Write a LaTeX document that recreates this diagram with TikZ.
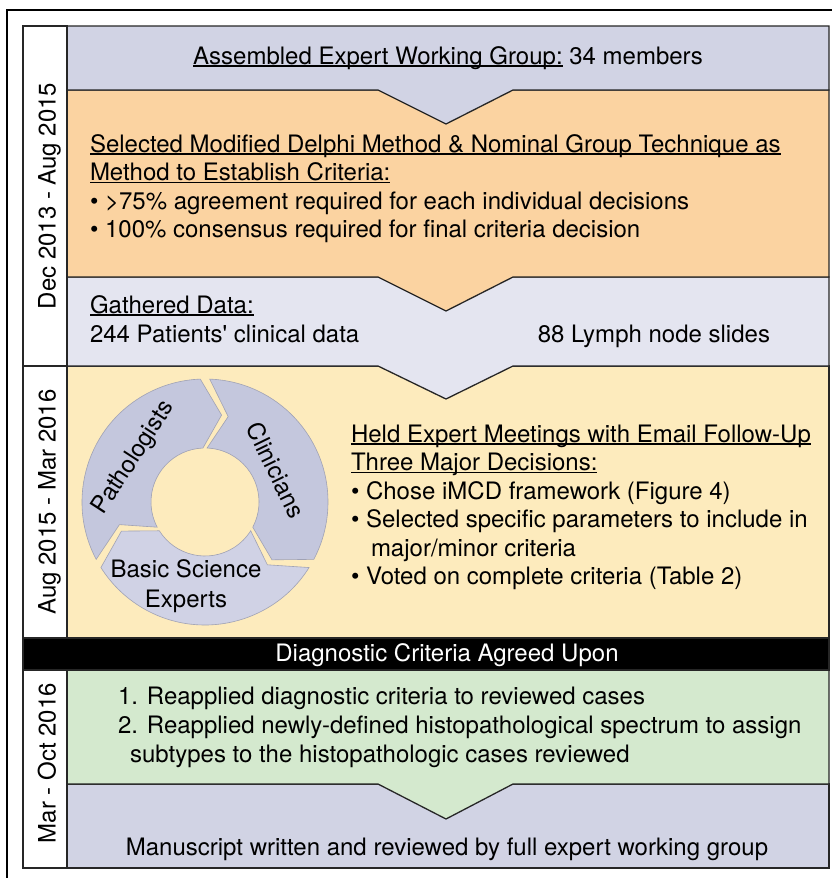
\documentclass[tikz,border=0pt]{standalone}
\usepackage{fontspec}
\setmainfont{TeX Gyre Heros}
\definecolor{lavA}{RGB}{209,211,228}
\definecolor{grayA}{RGB}{228,229,240}
\definecolor{org}{RGB}{251,211,161}
\definecolor{yel}{RGB}{253,235,189}
\definecolor{grn}{RGB}{212,233,206}
\definecolor{segA}{RGB}{196,199,221}
\definecolor{segB}{RGB}{208,210,229}
\definecolor{segedge}{RGB}{160,162,180}
\newcommand\myul[1]{\setbox0\hbox{#1}\rlap{\rule[-2.6pt]{\wd0}{1.2pt}}\box0\relax}
\begin{document}
\begin{tikzpicture}[x=1pt,y=-1pt,
  every node/.style={inner sep=0pt, outer sep=0pt, font=\fontsize{24}{28.5}\selectfont},
  boxline/.style={draw=black!85, line width=1.3pt, line join=miter},
  txt/.style={anchor=base west},
  ctxt/.style={anchor=base},
  lbl/.style={anchor=base, rotate=90},
  seg/.style={draw=segedge, line width=0.6pt}]
\useasboundingbox (0,0) rectangle (832,878);
\fill[white] (0,0) rectangle (832,878);
% outer frame
\draw[line width=1.5pt] (7,878) -- (7,10) -- (832,10);
% boxes (bottom to top)
\path[boxline, fill=lavA] (67,784) rectangle (829,868);
\path[boxline, fill=grn] (67,670) -- (829,670) -- (829,784) -- (513,784) -- (446,819) -- (378,784) -- (67,784) -- cycle;
\path[boxline, fill=black] (23,638) rectangle (829,670);
\path[boxline, fill=yel] (67,366) rectangle (829,638);
\path[boxline, fill=grayA] (67,277) -- (829,277) -- (829,366) -- (513,366) -- (446,399) -- (378,366) -- (67,366) -- cycle;
\path[boxline, fill=org] (67,90) -- (829,90) -- (829,277) -- (513,277) -- (446,311) -- (378,277) -- (67,277) -- cycle;
\path[boxline, fill=lavA] (67,26) -- (829,26) -- (829,90) -- (513,90) -- (446,124) -- (378,90) -- (67,90) -- cycle;
% label column
\path[boxline, fill=white] (23,26) rectangle (67,366);
\path[boxline, fill=white] (23,366) rectangle (67,638);
\path[boxline, fill=white] (23,670) rectangle (67,868);
% labels
\node[lbl] (l1) at (55.5,196) {Dec 2013 - Aug 2015};
\node[lbl] (l2) at (55.5,502) {Aug 2015 - Mar 2016};
\node[lbl] (l3) at (55.5,763) {Mar - Oct 2016};
% box 1
\node[ctxt] (t1) at (448,64) {\myul{Assembled Expert Working Group:} 34 members};
% box 2
\node[txt] (t2a) at (90,152) {\myul{Selected Modified Delphi Method \& Nominal Group Technique as}};
\node[txt] (t2b) at (90,180.5) {\myul{Method to Establish Criteria:}};
\node[txt] (t2c) at (90,209) {• >75\% agreement required for each individual decisions};
\node[txt] (t2d) at (90,237.5) {• 100\% consensus required for final criteria decision};
% box 3
\node[txt] (t3a) at (90,313) {\myul{Gathered Data:}};
\node[txt] (t3b) at (90,342) {244 Patients\textquotesingle{} clinical data};
\node[anchor=base east] (t3c) at (770,342) {88 Lymph node slides};
% cycle
\begin{scope}[shift={(205,502)}, yscale=-1]
  \def\R{123}\def\r{54}\def\m{88.5}
  \path[seg, fill=segA] (207.8:\R) arc[start angle=207.8, end angle=92.2, radius=\R] -- (79.2:\m) -- (92.2:\r) arc[start angle=92.2, end angle=207.8, radius=\r] -- (194.8:\m) -- cycle;
  \path[seg, fill=segA] (87.8:\R) arc[start angle=87.8, end angle=-27.8, radius=\R] -- (-40.8:\m) -- (-27.8:\r) arc[start angle=-27.8, end angle=87.8, radius=\r] -- (74.8:\m) -- cycle;
  \path[seg, fill=segB] (-32.2:\R) arc[start angle=-32.2, end angle=-147.8, radius=\R] -- (-160.8:\m) -- (-147.8:\r) arc[start angle=-147.8, end angle=-32.2, radius=\r] -- (-45.2:\m) -- cycle;
\end{scope}
\node[rotate=57] (c1) at (134,458) {Pathologists};
\node[rotate=-64] (c2) at (276,470) {Clinicians};
\node[ctxt] (c3a) at (186,577) {Basic Science};
\node[ctxt] (c3b) at (186,607) {Experts};
% box 4
\node[txt] (t4a) at (351,442) {\myul{Held Expert Meetings with Email Follow-Up}};
\node[txt] (t4b) at (351,470.5) {\myul{Three Major Decisions:}};
\node[txt] (t4c) at (351,499) {• Chose iMCD framework (Figure 4)};
\node[txt] (t4d) at (351,527.5) {• Selected specific parameters to include in};
\node[txt] (t4e) at (371,556) {major/minor criteria};
\node[txt] (t4f) at (351,584.5) {• Voted on complete criteria (Table 2)};
% black band
\node[ctxt, text=white] (tb) at (447,661) {Diagnostic Criteria Agreed Upon};
% green
\node[txt] (t5a) at (118,704) {1. Reapplied diagnostic criteria to reviewed cases};
\node[txt] (t5b) at (118,733) {2. Reapplied newly-defined histopathological spectrum to assign};
\node[txt] (t5c) at (130,762) {subtypes to the histopathologic cases reviewed};
% last
\node[ctxt] (t6) at (447,855) {Manuscript written and reviewed by full expert working group};
\end{tikzpicture}
\end{document}
